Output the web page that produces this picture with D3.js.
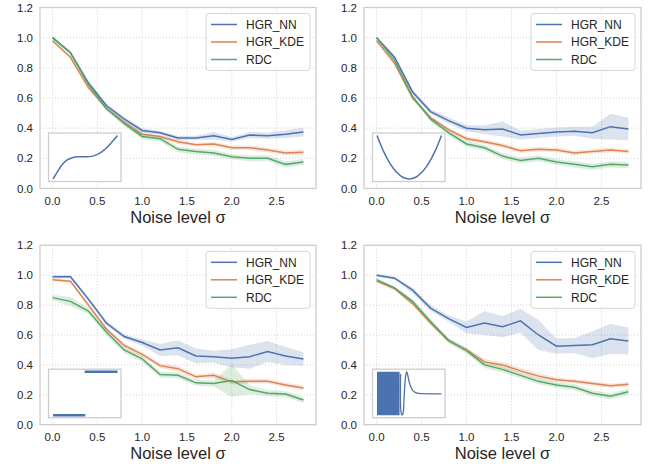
<!DOCTYPE html>
<html>
<head>
<meta charset="utf-8">
<script src="https://cdn.jsdelivr.net/npm/d3@7"></script>
<style>
  body { margin: 0; background: #fff; }
  svg { display: block; font-family: "Liberation Sans", Arial, sans-serif; }
</style>
</head>
<body>
<div id="chart"></div>
<script>
// ---------------- data
var sigma = [0, 0.2, 0.4, 0.6, 0.8, 1.0, 1.2, 1.4, 1.6, 1.8, 2.0, 2.2, 2.4, 2.6, 2.8];
var xTicks = [0, 0.5, 1.0, 1.5, 2.0, 2.5];
var yTicks = [0, 0.2, 0.4, 0.6, 0.8, 1.0, 1.2];
var seriesNames = ["HGR_NN", "HGR_KDE", "RDC"];
var xLabel = "Noise level \u03c3";

// top left (cubic)
var tlNN     = [1.00, 0.90, 0.70, 0.55, 0.46, 0.385, 0.37, 0.335, 0.335, 0.35, 0.325, 0.355, 0.35, 0.36, 0.375];
var tlNNErr  = [0.01, 0.01, 0.015, 0.015, 0.015, 0.015, 0.012, 0.015, 0.015, 0.025, 0.015, 0.02, 0.02, 0.025, 0.03];
var tlKDE    = [0.98, 0.87, 0.67, 0.53, 0.44, 0.36, 0.345, 0.31, 0.29, 0.295, 0.27, 0.27, 0.255, 0.235, 0.24];
var tlKDEErr = [0.01, 0.01, 0.01, 0.01, 0.01, 0.012, 0.012, 0.015, 0.012, 0.015, 0.015, 0.015, 0.015, 0.015, 0.02];
var tlRDC    = [1.00, 0.90, 0.69, 0.53, 0.43, 0.345, 0.33, 0.26, 0.245, 0.235, 0.21, 0.20, 0.20, 0.16, 0.175];
var tlRDCErr = [0.01, 0.01, 0.012, 0.015, 0.015, 0.018, 0.018, 0.02, 0.02, 0.02, 0.018, 0.02, 0.02, 0.02, 0.02];

// top right (parabola)
var trNN     = [1.00, 0.87, 0.64, 0.51, 0.45, 0.40, 0.39, 0.395, 0.355, 0.365, 0.375, 0.38, 0.37, 0.41, 0.395];
var trNNErr  = [0.01, 0.01, 0.015, 0.015, 0.02, 0.02, 0.03, 0.05, 0.03, 0.03, 0.03, 0.03, 0.04, 0.085, 0.075];
var trKDE    = [0.98, 0.83, 0.60, 0.47, 0.39, 0.33, 0.31, 0.285, 0.25, 0.26, 0.255, 0.235, 0.245, 0.255, 0.245];
var trKDEErr = [0.01, 0.01, 0.012, 0.012, 0.012, 0.015, 0.015, 0.015, 0.015, 0.015, 0.015, 0.015, 0.015, 0.015, 0.015];
var trRDC    = [1.00, 0.85, 0.61, 0.46, 0.37, 0.295, 0.27, 0.215, 0.185, 0.20, 0.175, 0.16, 0.145, 0.16, 0.155];
var trRDCErr = [0.01, 0.01, 0.012, 0.015, 0.015, 0.02, 0.02, 0.02, 0.02, 0.02, 0.02, 0.02, 0.02, 0.02, 0.02];

// bottom left (step)
var blNN     = [0.99, 0.99, 0.84, 0.68, 0.59, 0.55, 0.50, 0.515, 0.46, 0.455, 0.445, 0.455, 0.49, 0.46, 0.44];
var blNNErr  = [0.01, 0.01, 0.015, 0.015, 0.015, 0.02, 0.04, 0.05, 0.05, 0.04, 0.06, 0.08, 0.07, 0.06, 0.045];
var blKDE    = [0.97, 0.96, 0.80, 0.64, 0.53, 0.47, 0.395, 0.375, 0.32, 0.33, 0.285, 0.29, 0.29, 0.265, 0.245];
var blKDEErr = [0.01, 0.01, 0.015, 0.015, 0.015, 0.015, 0.015, 0.02, 0.015, 0.02, 0.015, 0.015, 0.015, 0.015, 0.015];
var blRDC    = [0.85, 0.825, 0.76, 0.62, 0.50, 0.44, 0.335, 0.33, 0.28, 0.275, 0.295, 0.235, 0.21, 0.205, 0.165];
var blRDCErr = [0.02, 0.03, 0.02, 0.02, 0.02, 0.02, 0.02, 0.02, 0.02, 0.02, 0.11, 0.03, 0.02, 0.02, 0.02];

// bottom right (oscillating)
var brNN     = [1.00, 0.98, 0.90, 0.78, 0.71, 0.65, 0.68, 0.655, 0.695, 0.60, 0.525, 0.53, 0.535, 0.575, 0.56];
var brNNErr  = [0.01, 0.01, 0.02, 0.02, 0.02, 0.04, 0.08, 0.07, 0.08, 0.10, 0.05, 0.05, 0.09, 0.10, 0.09];
var brKDE    = [0.96, 0.91, 0.81, 0.68, 0.56, 0.50, 0.42, 0.40, 0.36, 0.325, 0.30, 0.29, 0.275, 0.26, 0.27];
var brKDEErr = [0.01, 0.01, 0.012, 0.015, 0.015, 0.015, 0.02, 0.02, 0.02, 0.02, 0.015, 0.015, 0.015, 0.015, 0.015];
var brRDC    = [0.97, 0.915, 0.825, 0.69, 0.565, 0.495, 0.40, 0.37, 0.33, 0.29, 0.265, 0.25, 0.21, 0.19, 0.22];
var brRDCErr = [0.01, 0.01, 0.015, 0.015, 0.015, 0.02, 0.02, 0.02, 0.02, 0.02, 0.02, 0.02, 0.02, 0.02, 0.02];

// inset shapes (u, v in 0..1)
var insetCubic = [[0,0],[0.07,0.17],[0.14,0.33],[0.22,0.44],[0.3,0.49],[0.4,0.51],[0.5,0.51],[0.6,0.52],
                  [0.68,0.56],[0.76,0.63],[0.84,0.73],[0.92,0.86],[1,1]];
var insetParab = [[0,1],[0.1,0.64],[0.2,0.36],[0.3,0.16],[0.4,0.04],[0.5,0],[0.6,0.04],[0.7,0.16],[0.8,0.36],[0.9,0.64],[1,1]];
var insetStepLow  = [[0,0],[0.5,0]];
var insetStepHigh = [[0.49,1],[1,1]];
var insetOscBlock = [[0,0,1],[0.35,0,1]];   // [u, vLow, vHigh]
var insetOscTail  = [[0.365,0.95],[0.375,0.05],[0.39,0.0],[0.405,0.05],[0.42,0.4],[0.44,0.85],[0.46,1.0],[0.48,0.9],[0.5,0.76],
                     [0.53,0.63],[0.56,0.56],[0.6,0.52],[0.65,0.5],[0.7,0.495],[1,0.49]];

// ---------------- layout / style
var W = 656, H = 465;
var colors = ["#4c72b0", "#dd8452", "#55a868"];
var textColor = "#262626";

var panels = [
  { left: 40,  right: 316, top: 7.5,   bottom: 188.5, series: [[tlNN, tlNNErr], [tlKDE, tlKDEErr], [tlRDC, tlRDCErr]], inset: "cubic" },
  { left: 364, right: 641, top: 7.5,   bottom: 188.5, series: [[trNN, trNNErr], [trKDE, trKDEErr], [trRDC, trRDCErr]], inset: "parab" },
  { left: 40,  right: 316, top: 245.3, bottom: 424.7, series: [[blNN, blNNErr], [blKDE, blKDEErr], [blRDC, blRDCErr]], inset: "step" },
  { left: 364, right: 641, top: 245.3, bottom: 424.7, series: [[brNN, brNNErr], [brKDE, brKDEErr], [brRDC, brRDCErr]], inset: "osc" }
];

var svg = d3.select("#chart").append("svg").attr("width", W).attr("height", H);
svg.append("rect").attr("width", W).attr("height", H).attr("fill", "#fff");

panels.forEach(function (p) {
  var x = d3.scaleLinear().domain([-0.14, 2.94]).range([p.left, p.right]);
  var y = d3.scaleLinear().domain([0, 1.2]).range([p.bottom, p.top]);
  var g = svg.append("g");

  //----- grid
  g.selectAll(".gx").data(xTicks).enter().append("line")
    .attr("x1", function (d) { return x(d); }).attr("x2", function (d) { return x(d); })
    .attr("y1", p.top).attr("y2", p.bottom)
    .attr("stroke", "#cccccc").attr("stroke-width", 0.9).attr("stroke-dasharray", "1,2");
  g.selectAll(".gy").data(yTicks).enter().append("line")
    .attr("x1", p.left).attr("x2", p.right)
    .attr("y1", function (d) { return y(d); }).attr("y2", function (d) { return y(d); })
    .attr("stroke", "#cccccc").attr("stroke-width", 0.9).attr("stroke-dasharray", "1,2");

  //----- bands + lines
  p.series.forEach(function (s, i) {
    var mean = s[0], err = s[1];
    var pts = sigma.map(function (v, k) { return { x: v, m: mean[k], e: err[k] }; });
    g.append("path").datum(pts)
      .attr("d", d3.area().x(function (d) { return x(d.x); })
        .y0(function (d) { return y(d.m - d.e); })
        .y1(function (d) { return y(d.m + d.e); }))
      .attr("fill", colors[i]).attr("fill-opacity", 0.2);
    g.append("path").datum(pts)
      .attr("d", d3.line().x(function (d) { return x(d.x); }).y(function (d) { return y(d.m); }))
      .attr("fill", "none").attr("stroke", colors[i]).attr("stroke-width", 1.5);
  });

  //----- frame
  g.append("rect").attr("x", p.left).attr("y", p.top)
    .attr("width", p.right - p.left).attr("height", p.bottom - p.top)
    .attr("fill", "none").attr("stroke", "#cccccc").attr("stroke-width", 1.25);

  //----- tick labels
  g.selectAll(".tx").data(xTicks).enter().append("text")
    .attr("x", function (d) { return x(d); }).attr("y", p.bottom + 16)
    .attr("text-anchor", "middle").attr("font-size", 11.5).attr("fill", textColor)
    .text(function (d) { return d3.format(".1f")(d); });
  g.selectAll(".ty").data(yTicks).enter().append("text")
    .attr("x", p.left - 7).attr("y", function (d) { return y(d) + 4; })
    .attr("text-anchor", "end").attr("font-size", 11.5).attr("fill", textColor)
    .text(function (d) { return d3.format(".1f")(d); });

  g.append("text").attr("x", (p.left + p.right) / 2).attr("y", p.bottom + 34)
    .attr("text-anchor", "middle").attr("font-size", 16.5).attr("fill", textColor)
    .text(xLabel);

  //----- legend
  var lw = 104, lh = 57, lx = p.right - 6 - lw, ly = p.top + 6;
  var leg = g.append("g").attr("transform", "translate(" + lx + "," + ly + ")");
  leg.append("rect").attr("width", lw).attr("height", lh).attr("rx", 3)
    .attr("fill", "#fff").attr("fill-opacity", 0.8).attr("stroke", "#d6d6d6").attr("stroke-width", 1);
  seriesNames.forEach(function (name, i) {
    var ry = 11 + i * 17.5;
    leg.append("line").attr("x1", 5).attr("x2", 31).attr("y1", ry).attr("y2", ry)
      .attr("stroke", colors[i]).attr("stroke-width", 1.5);
    leg.append("text").attr("x", 40).attr("y", ry + 4.3).attr("font-size", 12)
      .attr("fill", textColor).text(name);
  });

  //----- inset
  var ix = p.left + 8.5, iw = 72.5, ih = 48.5, iy = p.bottom - 7 - ih;
  var ins = g.append("g");
  ins.append("rect").attr("x", ix).attr("y", iy).attr("width", iw).attr("height", ih)
    .attr("fill", "#fff").attr("stroke", "#cccccc").attr("stroke-width", 1.25);
  var u = d3.scaleLinear().domain([0, 1]).range([ix + 4.5, ix + iw - 3.5]);
  var v = d3.scaleLinear().domain([0, 1]).range([iy + ih - 2.5, iy + 2.5]);
  var ln = d3.line().x(function (d) { return u(d[0]); }).y(function (d) { return v(d[1]); });
  function drawLine(data, curve, width) {
    ins.append("path").datum(data).attr("d", ln.curve(curve)(data))
      .attr("fill", "none").attr("stroke", colors[0]).attr("stroke-width", width);
  }
  if (p.inset === "cubic") drawLine(insetCubic, d3.curveCatmullRom, 1.5);
  if (p.inset === "parab") drawLine(insetParab, d3.curveCatmullRom, 1.5);
  if (p.inset === "step") {
    drawLine(insetStepLow, d3.curveLinear, 2.5);
    drawLine(insetStepHigh, d3.curveLinear, 2.5);
  }
  if (p.inset === "osc") {
    ins.append("path").datum(insetOscBlock)
      .attr("d", d3.area().x(function (d) { return u(d[0]); })
        .y0(function (d) { return v(d[1]); }).y1(function (d) { return v(d[2]); }))
      .attr("fill", colors[0]);
    drawLine(insetOscTail, d3.curveCatmullRom, 1.3);
  }
});
</script>
</body>
</html>
